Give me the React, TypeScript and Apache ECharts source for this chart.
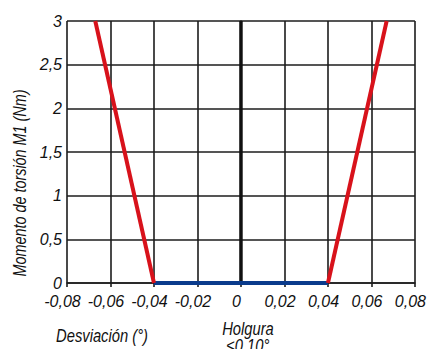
import React, { useEffect, useRef } from "react";
import * as echarts from "echarts";

const xTicks = [-0.08, -0.06, -0.04, -0.02, 0, 0.02, 0.04, 0.06, 0.08];
const yTicks = [0, 0.5, 1, 1.5, 2, 2.5, 3];
const redLeft = [[-0.067, 3], [-0.04, 0]];
const redRight = [[0.04, 0], [0.067, 3]];
const blueFlat = [[-0.04, 0], [0.04, 0]];
const zeroLine = [[0, 0], [0, 3]];
const yAxisTitle = "Momento de torsión M1 (Nm)";
const xAxisTitle = "Desviación (°)";
const noteLines = ["Holgura", "≤0,10°"];

const FONT = "'Liberation Sans', Arial, sans-serif";

const fmt = (v: number) => {
  if (Math.abs(v) < 1e-9) return "0";
  if (Math.abs(v) < 0.1) return v.toFixed(2).replace(".", ",");
  const r = Math.round(v * 10) / 10;
  return (Number.isInteger(r) ? String(r) : r.toFixed(1)).replace(".", ",");
};

export default function App() {
  const ref = useRef<HTMLDivElement>(null);
  useEffect(() => {
    const chart = echarts.init(ref.current!, undefined, { renderer: "svg" });
    const labelStyle = {
      fontFamily: FONT,
      fontStyle: "italic" as const,
      fontSize: 16,
      color: "#111",
    };
    const gridColor = "#1c1c1c";
    const textStyle = {
      fontFamily: FONT,
      fontStyle: "italic",
      fontSize: 18,
      fill: "#111",
      textAlign: "center",
      textVerticalAlign: "middle",
    };
    chart.setOption({
      animation: false,
      backgroundColor: "#fff",
      grid: { left: 67, right: 13, top: 21, bottom: 66 },
      xAxis: {
        type: "value",
        min: xTicks[0],
        max: xTicks[xTicks.length - 1],
        interval: 0.02,
        axisLine: { show: true, onZero: false, lineStyle: { color: gridColor, width: 1.6 } },
        axisTick: { show: true, length: 4, lineStyle: { color: gridColor, width: 1.6 } },
        splitLine: { show: true, lineStyle: { color: gridColor, width: 1.6 } },
        axisLabel: {
          ...labelStyle,
          margin: 10,
          padding: [0, 9, 0, 0],
          formatter: (v: number) => fmt(v),
        },
      },
      yAxis: {
        type: "value",
        min: yTicks[0],
        max: yTicks[yTicks.length - 1],
        interval: 0.5,
        axisLine: { show: true, lineStyle: { color: gridColor, width: 1.6 } },
        axisTick: { show: false },
        splitLine: { show: true, lineStyle: { color: gridColor, width: 1.6 } },
        axisLabel: { ...labelStyle, margin: 5, formatter: (v: number) => fmt(v) },
      },
      series: [
        {
          type: "line",
          data: zeroLine,
          symbol: "none",
          lineStyle: { color: "#111", width: 3.5 },
          z: 3,
        },
        {
          type: "line",
          data: blueFlat,
          symbol: "none",
          lineStyle: { color: "#0a3b8c", width: 4 },
          z: 4,
        },
        {
          type: "line",
          data: redLeft,
          symbol: "none",
          lineStyle: { color: "#d8121b", width: 4 },
          z: 5,
        },
        {
          type: "line",
          data: redRight,
          symbol: "none",
          lineStyle: { color: "#d8121b", width: 4 },
          z: 5,
        },
      ],
      graphic: [
        { type: "text", x: 19, y: 183, rotation: Math.PI / 2, scaleX: 0.8, style: { ...textStyle, text: yAxisTitle } },
        { type: "text", x: 102, y: 335, scaleX: 0.82, style: { ...textStyle, text: xAxisTitle } },
        { type: "text", x: 248, y: 328, scaleX: 0.82, style: { ...textStyle, text: noteLines[0] } },
        { type: "text", x: 248, y: 345, scaleX: 0.82, style: { ...textStyle, text: noteLines[1] } },
      ],
    });
    return () => chart.dispose();
  }, []);
  return (
    <div
      ref={ref}
      style={{ width: 429, height: 349, position: "absolute", left: 0, top: 0 }}
    />
  );
}
